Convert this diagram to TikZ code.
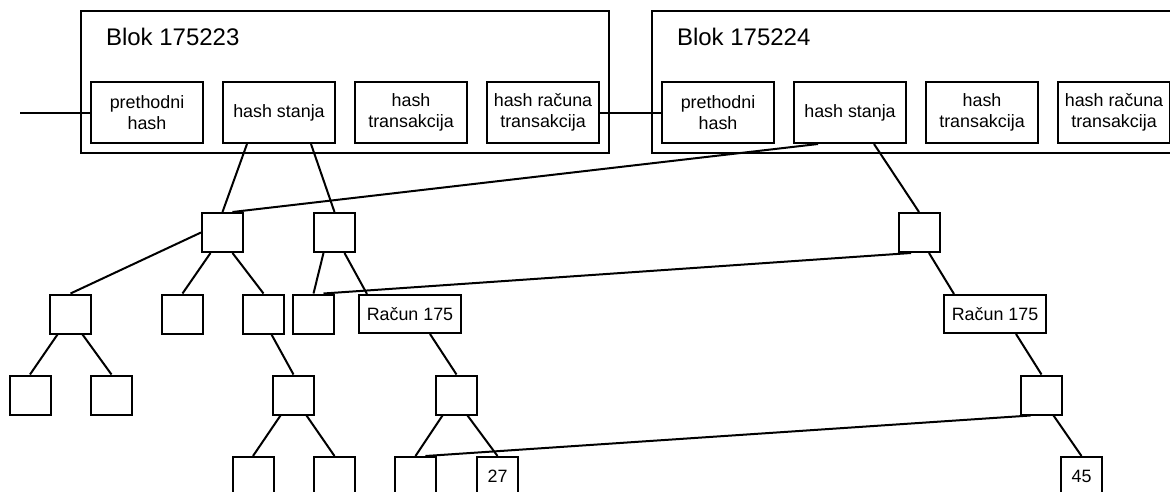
\documentclass[tikz,border=0pt]{standalone}
\usepackage{fontspec}
\setmainfont{Liberation Sans}
\usetikzlibrary{calc}
\begin{document}
\begin{tikzpicture}[x=0.75pt,y=-0.75pt,line width=1.5pt,
        blok/.style={draw,minimum width=396pt,minimum height=106.5pt},
        naslov/.style={anchor=base west,inner sep=0pt,font=\fontsize{18}{22}\selectfont},
        polje/.style={draw,align=center,inner sep=0pt,minimum width=84pt,minimum height=45.75pt,font=\fontsize{13.4}{15.75}\selectfont},
        kv/.style={draw,inner sep=0pt,minimum width=30.75pt,minimum height=29.25pt,font=\fontsize{13.4}{16}\selectfont},
        racun/.style={kv,minimum width=76.5pt,minimum height=28.5pt}]
        \useasboundingbox (0,0) rectangle (1170,492);
        \clip (0,0) rectangle (1170,492);

        % blokovi
        \draw (345,82) node[blok](blkA) {};
        \draw (916,82) node[blok](blkB) {};
        \draw (105,46) node[naslov](tA) {Blok 175223};
        \draw (676,46) node[naslov](tB) {Blok 175224};

        \draw (147,112.5) node[polje](pA) {prethodni\\hash};
        \draw (279,112.5) node[polje](hsA) {hash stanja};
        \draw (411,112.5) node[polje](htA) {hash\\transakcija};
        \draw (543,112.5) node[polje](hrA) {hash računa\\transakcija};

        \draw (718,112.5) node[polje](pB) {prethodni\\hash};
        \draw (850,112.5) node[polje](hsB) {hash stanja};
        \draw (982,112.5) node[polje](htB) {hash\\transakcija};
        \draw (1114,112.5) node[polje](hrB) {hash računa\\transakcija};

        % stablo
        \draw (222.5,232.5) node[kv](a) {};
        \draw (334.5,232.5) node[kv](b) {};
        \draw (919,232.5) node[kv](c) {};

        \draw (70.5,314) node[kv](h) {};
        \draw (182.5,314) node[kv](i) {};
        \draw (263.5,314) node[kv](j) {};
        \draw (313.5,314) node[kv](d) {};
        \draw (410,314) node[racun](rA) {Račun 175};
        \draw (995,314) node[racun](rB) {Račun 175};

        \draw (30,395) node[kv](k) {};
        \draw (111.5,395) node[kv](l) {};
        \draw (293.5,395) node[kv](m) {};
        \draw (456.5,395) node[kv](n) {};
        \draw (1041.5,395) node[kv](e) {};

        \draw (253,476.5) node[kv](o) {};
        \draw (334.5,476.5) node[kv](p) {};
        \draw (415.5,476.5) node[kv](g) {};
        \draw (497.5,476.5) node[kv](v27) {27};
        \draw (1081.5,476.5) node[kv](v45) {45};

        % veze
        \coordinate (ulaz) at (20,112.5);
        \draw (ulaz) -- (pA.west);
        \draw (hrA.east) -- (pB.west);

        \draw ($(hsA.south)+(-32,0)$) -- (a.north);
        \draw ($(hsA.south)+(32,0)$) -- (b.north);
        \draw ($(hsB.south)+(-32,0)$) -- ($(a.north)+(10,0)$);
        \draw ($(hsB.south)+(24,0)$) -- (c.north);

        \draw (a.west) -- (h.north);
        \draw ($(a.south)+(-12,0)$) -- (i.north);
        \draw ($(a.south)+(10,0)$) -- (j.north);
        \draw ($(b.south)+(-11,0)$) -- (d.north);
        \draw ($(b.south)+(10,0)$) -- ($(rA.north west)+(9,0)$);
        \draw ($(c.south)+(-8,0)$) -- ($(d.north)+(10,0)$);
        \draw ($(c.south)+(10,0)$) -- ($(rB.north west)+(11,0)$);

        \draw ($(h.south)+(-13,0)$) -- (k.north);
        \draw ($(h.south)+(12,0)$) -- (l.north);
        \draw ($(j.south)+(8,0)$) -- (m.north);
        \draw ($(rA.south)+(20,0)$) -- (n.north);
        \draw ($(rB.south)+(21,0)$) -- (e.north);

        \draw ($(m.south)+(-13,0)$) -- (o.north);
        \draw ($(m.south)+(13,0)$) -- (p.north);
        \draw ($(n.south)+(-14,0)$) -- (g.north);
        \draw ($(n.south)+(11,0)$) -- (v27.north);
        \draw ($(e.south)+(-11,0)$) -- ($(g.north)+(10,0)$);
        \draw ($(e.south)+(12,0)$) -- (v45.north);
    \end{tikzpicture}
\end{document}
